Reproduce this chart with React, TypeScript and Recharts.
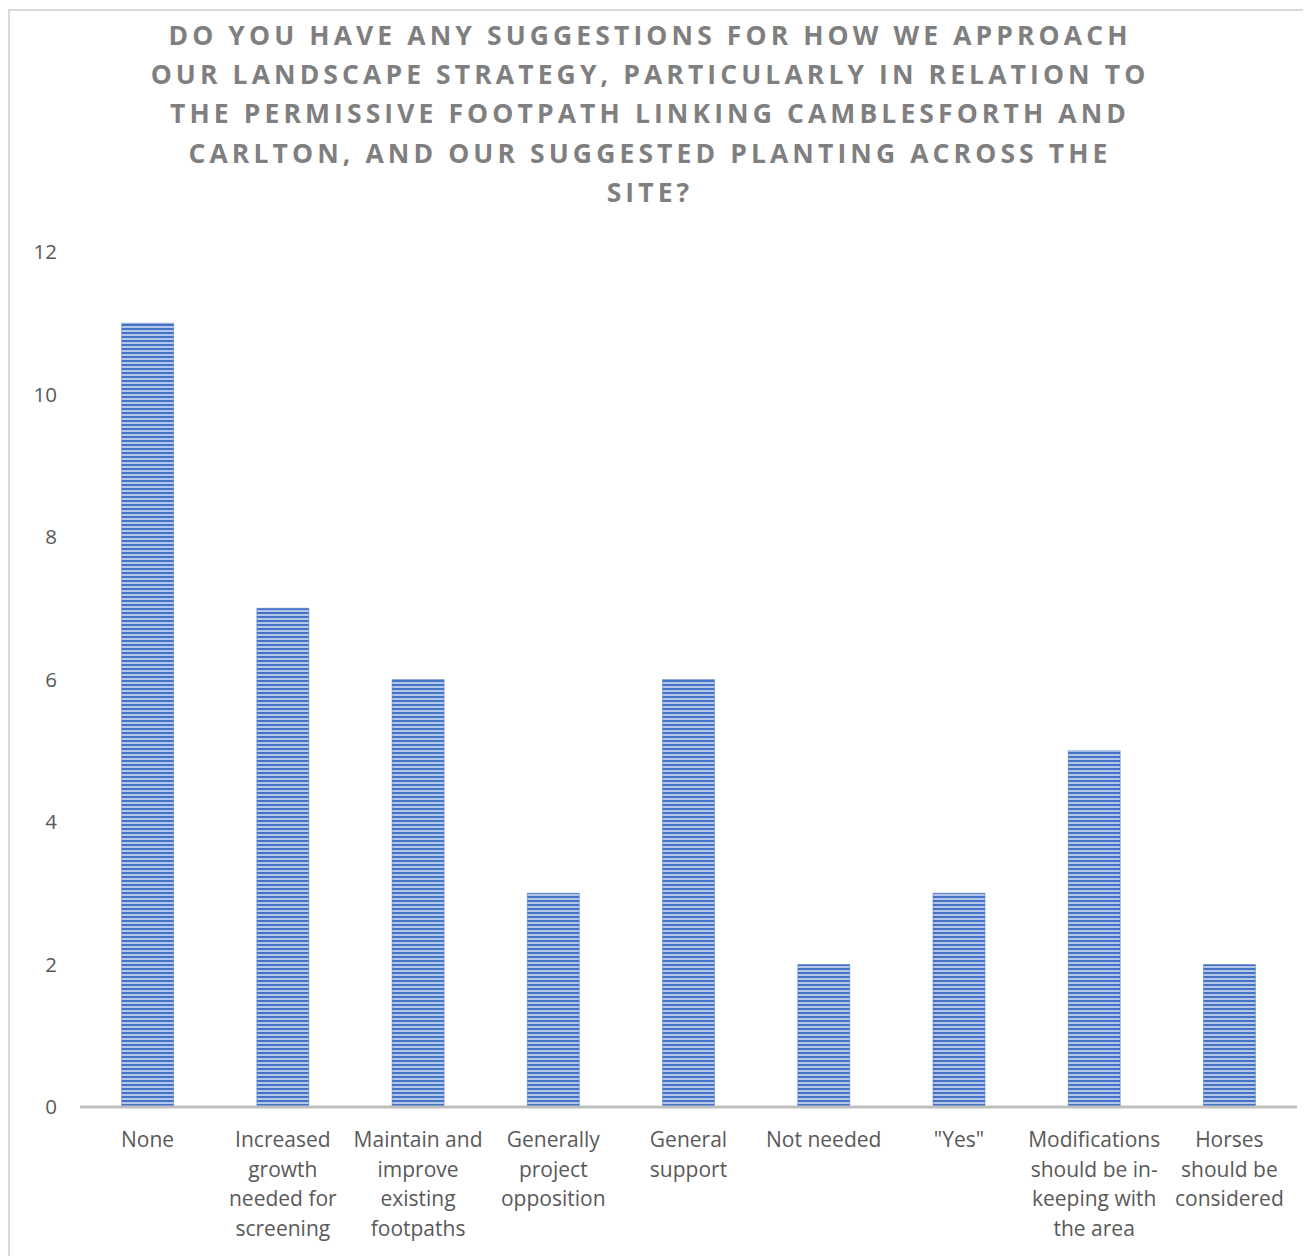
import { Bar, BarChart, XAxis, YAxis } from 'recharts'

const categories = [
  'None',
  'Increased growth needed for screening',
  'Maintain and improve existing footpaths',
  'Generally project opposition',
  'General support',
  'Not needed',
  '"Yes"',
  'Modifications should be in-keeping with the area',
  'Horses should be considered',
]

// line breaks as they appear under each bar
const categoryLines = [
  ['None'],
  ['Increased', 'growth', 'needed for', 'screening'],
  ['Maintain and', 'improve', 'existing', 'footpaths'],
  ['Generally', 'project', 'opposition'],
  ['General', 'support'],
  ['Not needed'],
  ['"Yes"'],
  ['Modifications', 'should be in-', 'keeping with', 'the area'],
  ['Horses', 'should be', 'considered'],
]

const responses = [11, 7, 6, 3, 6, 2, 3, 5, 2]

const yTicks = [0, 2, 4, 6, 8, 10, 12]

const titleLines = [
  'DO YOU HAVE ANY SUGGESTIONS FOR HOW WE APPROACH',
  'OUR LANDSCAPE STRATEGY, PARTICULARLY IN RELATION TO',
  'THE PERMISSIVE FOOTPATH LINKING CAMBLESFORTH AND',
  'CARLTON, AND OUR SUGGESTED PLANTING ACROSS THE',
  'SITE?',
]

const data = categories.map((name, i) => ({ name, value: responses[i] }))

const FONT = '"Open Sans", Calibri, sans-serif'

function CategoryTick({ x, y, payload }: { x?: number; y?: number; payload?: { index: number } }) {
  const lines = categoryLines[payload?.index ?? 0] ?? []
  return (
    <text x={x} y={y} textAnchor="middle" fill="#595959" fontSize={21} fontFamily={FONT}>
      {lines.map((line, i) => (
        <tspan key={i} x={x} dy={i === 0 ? 32 : 29.5}>
          {line}
        </tspan>
      ))}
    </text>
  )
}

export default function App() {
  return (
    <div
      style={{
        position: 'relative',
        width: 1303,
        height: 1248,
        borderLeft: '2px solid #d9d9d9',
        borderTop: '2px solid #d9d9d9',
        boxSizing: 'border-box',
        marginTop: 1,
        background: '#fff',
        overflow: 'hidden',
      }}
    >
      <div
        style={{
          position: 'absolute',
          top: 5,
          left: 0,
          width: 1280,
          textAlign: 'center',
          fontFamily: FONT,
          fontWeight: 700,
          fontSize: 26.5,
          letterSpacing: 4.1,
          lineHeight: '39.2px',
          color: '#7f7f7f',
        }}
      >
        {titleLines.map((line) => (
          <div key={line}>{line}</div>
        ))}
      </div>
      <div style={{ position: 'absolute', top: -3, left: -2 }}>
        <BarChart
          width={1303}
          height={1248}
          data={data}
          margin={{ top: 244, right: 14, left: 12, bottom: 29 }}
          barCategoryGap="30.8%"
        >
          <defs>
            <pattern id="hstripes" width={4} height={4} patternUnits="userSpaceOnUse">
              <rect width={4} height={4} fill="#b4c7ea" />
              <rect width={4} height={2} fill="#4472c4" />
            </pattern>
          </defs>
          <YAxis
            domain={[0, 12]}
            ticks={yTicks}
            width={60}
            axisLine={false}
            tickLine={false}
            tickSize={0}
            tickMargin={23}
            tick={{ fill: '#595959', fontSize: 20.5, fontFamily: FONT }}
          />
          <XAxis
            dataKey="name"
            height={120}
            interval={0}
            tickLine={false}
            axisLine={{ stroke: '#bfbfbf', strokeWidth: 3 }}
            tick={<CategoryTick />}
          />
          <Bar dataKey="value" fill="url(#hstripes)" stroke="#4472c4" strokeWidth={0.5} isAnimationActive={false} />
        </BarChart>
      </div>
    </div>
  )
}
